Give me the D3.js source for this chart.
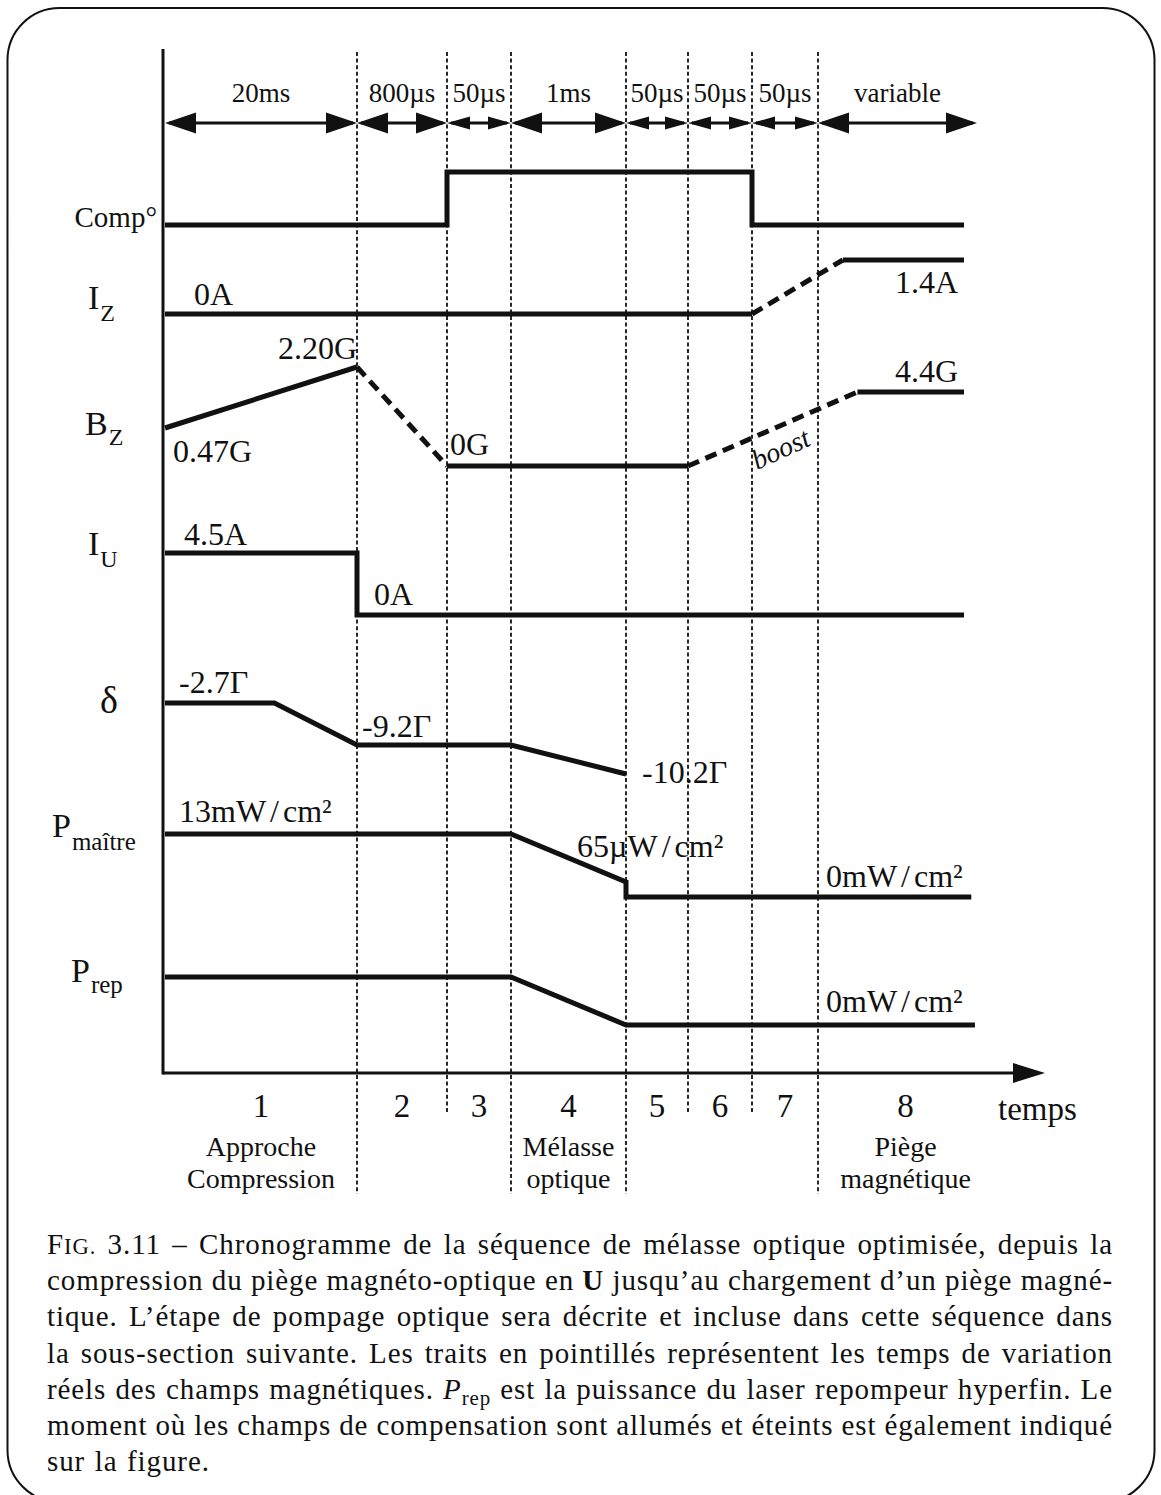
<!DOCTYPE html>
<html>
<head>
<meta charset="utf-8">
<script src="https://cdn.jsdelivr.net/npm/d3@7"></script>
<style>
  body { margin: 0; background: #fff; }
  svg { display: block; }
  text { font-family: "Liberation Serif", "Times New Roman", serif; fill: #111; }
</style>
</head>
<body>
<svg id="chart" width="1161" height="1495"></svg>
<script>
// ---- sequence description (schematic time: one unit per phase) ----
const phaseIds      = [1, 2, 3, 4, 5, 6, 7, 8];
const durations     = ["20ms", "800µs", "50µs", "1ms", "50µs", "50µs", "50µs", "variable"];
const bigArrow      = [true, true, false, true, false, false, false, true];
const phaseNames    = [["Approche", "Compression"], null, null, ["Mélasse", "optique"], null, null, null, ["Piège", "magnétique"]];
const longBounds    = [1, 3, 4, 7];
const shortBounds   = [2, 5, 6];

// ---- signals: [t, value] ----
const compOn        = [[0, 0], [2, 0], [2, 1], [6, 1], [6, 0], [8, 0]];          // compensation on/off
const izSolid1      = [[0, 0], [6, 0]];                                          // A
const izRamp        = [[6, 0], [7.17, 1.4]];
const izSolid2      = [[7.17, 1.4], [8, 1.4]];
const bzSolid1      = [[0, 0.47], [1, 2.20]];                                    // G
const bzRamp1       = [[1, 2.20], [2, 0]];
const bzSolid2      = [[2, 0], [5, 0]];
const bzRamp2       = [[5, 0], [7.27, 4.4]];
const bzSolid3      = [[7.27, 4.4], [8, 4.4]];
const iuSeries      = [[0, 4.5], [1, 4.5], [1, 0], [8, 0]];                      // A
const deltaSeries   = [[0, -2.7], [0.57, -2.7], [1, -9.2], [3, -9.2], [4, -10.2]]; // Γ
const pMaitre       = [[0, 13], [3, 13], [4, 0.065], [4, 0], [8.05, 0]];         // mW/cm²
const pRep          = [[0, 1], [3, 1], [4, 0], [8.075, 0]];                      // relative

// ---- caption ----
const captionLines = [
  "FIG. 3.11 – Chronogramme de la séquence de mélasse optique optimisée, depuis la",
  "compression du piège magnéto-optique en **U** jusqu’au chargement d’un piège magné-",
  "tique. L’étape de pompage optique sera décrite et incluse dans cette séquence dans",
  "la sous-section suivante. Les traits en pointillés représentent les temps de variation",
  "réels des champs magnétiques. P_rep est la puissance du laser repompeur hyperfin. Le",
  "moment où les champs de compensation sont allumés et éteints est également indiqué",
  "sur la figure."
];

const svg = d3.select("#chart");

// frame
svg.append("rect")
  .attr("x", 7.5).attr("y", 8).attr("width", 1147).attr("height", 1494)
  .attr("rx", 52).attr("ry", 52)
  .attr("fill", "none").attr("stroke", "#111").attr("stroke-width", 2);

// time scale: piecewise, one segment per phase
const x = d3.scaleLinear()
  .domain([0, 1, 2, 3, 4, 5, 6, 7, 8])
  .range([165, 357, 447, 511, 626, 688, 752, 818, 964]);

// one vertical scale per row (schematic levels)
const yComp  = d3.scaleLinear().domain([0, 1]).range([225, 172]);
const yIz    = d3.scaleLinear().domain([0, 1.4]).range([314, 260]);
const yBz    = d3.scaleLinear().domain([0, 0.47, 2.20, 4.4]).range([466, 428, 367, 392]);
const yIu    = d3.scaleLinear().domain([0, 4.5]).range([615, 553]);
const yDelta = d3.scaleLinear().domain([-10.2, -9.2, -2.7]).range([774, 745, 703]);
const yPm    = d3.scaleLinear().domain([0, 0.065, 13]).range([897, 882, 834]);
const yPr    = d3.scaleLinear().domain([0, 1]).range([1025, 977]);

const ARROW_Y = 123, AXIS_Y = 1073, AXIS_X = 163, TOP_Y = 52;

// dotted phase boundaries
const gBounds = svg.append("g");
function boundary(t, yEnd) {
  gBounds.append("line")
    .attr("x1", x(t)).attr("x2", x(t)).attr("y1", TOP_Y).attr("y2", yEnd)
    .attr("stroke", "#111").attr("stroke-width", 1.8).attr("stroke-dasharray", "4,2.6");
}
longBounds.forEach(t => boundary(t, 1194));
shortBounds.forEach(t => boundary(t, 1114));

// axes
svg.append("line").attr("x1", AXIS_X).attr("x2", AXIS_X).attr("y1", 49).attr("y2", AXIS_Y + 1.5)
  .attr("stroke", "#111").attr("stroke-width", 3);
const tAxisEnd = x.invert(1045);
svg.append("line").attr("x1", AXIS_X).attr("x2", x(tAxisEnd) - 28).attr("y1", AXIS_Y).attr("y2", AXIS_Y)
  .attr("stroke", "#111").attr("stroke-width", 3);
svg.append("path")
  .attr("d", `M${x(tAxisEnd)},${AXIS_Y} L${x(tAxisEnd) - 32},${AXIS_Y - 10} L${x(tAxisEnd) - 32},${AXIS_Y + 10} Z`)
  .attr("fill", "#111");

// duration arrows
const gArr = svg.append("g");
const lastEnd = x.invert(977);
function head(tip, dir, len, half) {
  return `M${tip},${ARROW_Y} L${tip + dir * len},${ARROW_Y - half} L${tip + dir * len},${ARROW_Y + half} Z`;
}
durations.forEach((d, i) => {
  const x0 = x(i), x1 = x(i === 7 ? lastEnd : i + 1);
  const len = bigArrow[i] ? 31 : 23, half = bigArrow[i] ? 10.5 : 6.5;
  gArr.append("line").attr("x1", x0 + 4).attr("x2", x1 - 4).attr("y1", ARROW_Y).attr("y2", ARROW_Y)
    .attr("stroke", "#111").attr("stroke-width", 3);
  gArr.append("path").attr("d", head(x0, 1, len, half)).attr("fill", "#111");
  gArr.append("path").attr("d", head(x1, -1, len, half)).attr("fill", "#111");
  gArr.append("text").attr("x", (x0 + x1) / 2).attr("y", 102)
    .attr("text-anchor", "middle").attr("font-size", 27).text(d);
});

// signal traces
const gSig = svg.append("g").attr("fill", "none").attr("stroke", "#111")
  .attr("stroke-width", 5).attr("stroke-linejoin", "miter");
function trace(data, yScale, dashed) {
  const line = d3.line().x(d => x(d[0])).y(d => yScale(d[1]));
  const p = gSig.append("path").attr("d", line(data));
  if (dashed) p.attr("stroke-dasharray", "12,7");
  return p;
}
trace(compOn, yComp);
trace(izSolid1, yIz); trace(izRamp, yIz, true); trace(izSolid2, yIz);
trace(bzSolid1, yBz); trace(bzRamp1, yBz, true); trace(bzSolid2, yBz);
trace(bzRamp2, yBz, true); trace(bzSolid3, yBz);
trace(iuSeries, yIu);
trace(deltaSeries, yDelta);
trace(pMaitre, yPm);
trace(pRep, yPr);

// value labels, placed from the value they state
const gLab = svg.append("g").attr("font-size", 32);
function valueLabel(t, v, yScale, txt, dx, dy, anchor) {
  const el = gLab.append("text")
    .attr("x", x(t) + dx).attr("y", yScale(v) + dy)
    .attr("text-anchor", anchor || "start");
  if (txt.includes("/")) {
    const [a, b] = txt.split("/");
    el.append("tspan").text(a);
    el.append("tspan").attr("dx", 4).text("/");
    el.append("tspan").attr("dx", 4).text(b);
  } else el.text(txt);
}
valueLabel(0, 0, yIz, "0A", 29, -9);
valueLabel(8, 1.4, yIz, "1.4A", -6, 33, "end");
valueLabel(1, 2.20, yBz, "2.20G", 0, -8, "end");
valueLabel(0, 0.47, yBz, "0.47G", 8, 34);
valueLabel(2, 0, yBz, "0G", 3, -11);
valueLabel(8, 4.4, yBz, "4.4G", -6, -10, "end");
valueLabel(0, 4.5, yIu, "4.5A", 19, -8);
valueLabel(1, 0, yIu, "0A", 17, -10);
valueLabel(0, -2.7, yDelta, "-2.7Γ", 14, -10);
valueLabel(1, -9.2, yDelta, "-9.2Γ", 5, -8);
valueLabel(4, -10.2, yDelta, "-10.2Γ", 16, 9);
valueLabel(0, 13, yPm, "13mW/cm²", 14, -12);
valueLabel(4, 0.065, yPm, "65µW/cm²", -49, -25);
valueLabel(7, 0, yPm, "0mW/cm²", 8, -10);
valueLabel(7, 0, yPr, "0mW/cm²", 8, -13);

// "boost" along the field ramp
const bAng = Math.atan2(yBz(4.4) - yBz(0), x(7.27) - x(5)) * 180 / Math.PI;
svg.append("text")
  .attr("transform", `translate(757,470) rotate(${bAng - 1})`)
  .attr("font-size", 28).attr("font-style", "italic").text("boost");

// row titles
const gRow = svg.append("g");
gRow.append("text").attr("x", 157).attr("y", 227).attr("text-anchor", "end")
  .attr("font-size", 29).text("Comp°");
function rowTitle(xx, yy, main, sub, subDy, size, subSize) {
  const t = gRow.append("text").attr("x", xx).attr("y", yy).attr("font-size", size || 34);
  t.append("tspan").text(main);
  if (sub) t.append("tspan").attr("font-size", subSize || 24).attr("dx", 1).attr("dy", subDy).text(sub);
}
rowTitle(88, 309, "I", "Z", 12);
rowTitle(85, 435, "B", "Z", 10);
rowTitle(88, 555, "I", "U", 12);
rowTitle(100, 713, "δ", null, 0, 38);
rowTitle(52, 837, "P", "maître", 13, 34, 25);
rowTitle(71, 982, "P", "rep", 11, 34, 25);

// phase numbers and names
const gPh = svg.append("g").attr("text-anchor", "middle");
phaseIds.forEach((p, i) => {
  const cx = i === 7 ? (x(7) + x(8.2)) / 2 : (x(i) + x(i + 1)) / 2;
  gPh.append("text").attr("x", cx).attr("y", 1117).attr("font-size", 33).text(p);
  if (phaseNames[i]) {
    gPh.append("text").attr("x", cx).attr("y", 1156).attr("font-size", 28).text(phaseNames[i][0]);
    gPh.append("text").attr("x", cx).attr("y", 1188).attr("font-size", 28).text(phaseNames[i][1]);
  }
});
svg.append("text").attr("x", 998).attr("y", 1120).attr("font-size", 33).text("temps");

// caption, justified word by word
const CAP_X0 = 47, CAP_X1 = 1113, CAP_Y0 = 1254, CAP_DY = 36.2, CAP_FS = 29;
const gCap = svg.append("g").attr("font-size", CAP_FS).attr("letter-spacing", 0.9);
function addWord(word) {
  const t = gCap.append("text");
  if (word === "FIG.") {
    t.append("tspan").text("F");
    t.append("tspan").attr("font-size", CAP_FS * 0.78).text("IG.");
  } else if (word.startsWith("**")) {
    t.append("tspan").attr("font-weight", "bold").text(word.replace(/\*\*/g, ""));
  } else if (word === "P_rep") {
    t.append("tspan").attr("font-style", "italic").text("P");
    t.append("tspan").attr("font-size", CAP_FS * 0.72).attr("dy", 6).text("rep");
  } else t.text(word);
  return t;
}
captionLines.forEach((ln, li) => {
  const words = ln.split(" ").map(addWord);
  const widths = words.map(w => w.node().getComputedTextLength());
  const total = d3.sum(widths);
  const last = li === captionLines.length - 1;
  const gap = last ? CAP_FS * 0.33 : (CAP_X1 - CAP_X0 - total) / (words.length - 1);
  let cx = CAP_X0;
  words.forEach((w, i) => {
    w.attr("x", cx).attr("y", CAP_Y0 + li * CAP_DY);
    cx += widths[i] + gap;
  });
});
</script>
</body>
</html>
